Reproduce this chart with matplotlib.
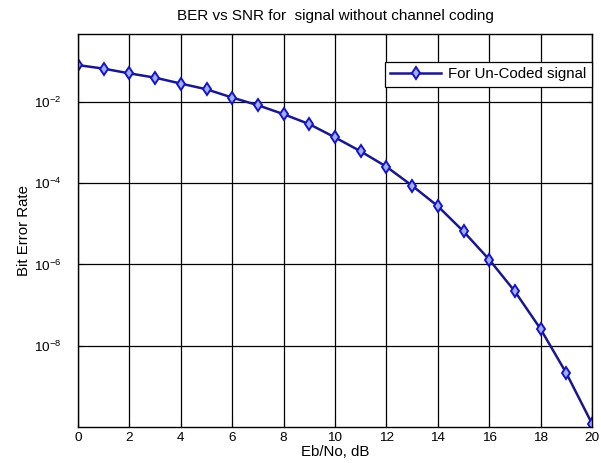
import matplotlib
matplotlib.use("Agg")
import matplotlib.pyplot as plt
from matplotlib.ticker import NullLocator, FixedLocator, LogFormatterMathtext

snr_db = [0, 1, 2, 3, 4, 5, 6, 7, 8, 9, 10, 11, 12, 13, 14, 15, 16, 17, 18, 19, 20]
ber = [0.0807, 0.0659, 0.0505, 0.0396, 0.0283, 0.0205, 0.0128, 0.0083, 0.0050,
       0.00284, 0.00134, 6.08e-4, 2.55e-4, 8.7e-5, 2.73e-5, 6.5e-6, 1.32e-6,
       2.17e-7, 2.58e-8, 2.12e-9, 1.21e-10]
xticks = [0, 2, 4, 6, 8, 10, 12, 14, 16, 18, 20]
yticks = [1e-8, 1e-6, 1e-4, 1e-2]

plt.rcParams['font.family'] = ['Liberation Sans', 'DejaVu Sans']
plt.rcParams['mathtext.fontset'] = 'custom'
plt.rcParams['mathtext.rm'] = 'Liberation Sans'

W, H = 601, 463
fig = plt.figure(figsize=(W / 100, H / 100), dpi=100)
l, r, t, b = 78, 592, 34, 427
ax = fig.add_axes([l / W, 1 - b / H, (r - l) / W, (b - t) / H])

ax.semilogy(snr_db, ber, '-', color='#18188c', lw=1.8, marker='d', ms=6.5,
            mfc='#a4aef2', mec='#1414c8', mew=1.4, label='For Un-Coded signal')

ax.set_xlim(0, 20)
ax.set_ylim(1e-10, 0.47)
ax.xaxis.set_major_locator(FixedLocator(xticks))
ax.yaxis.set_major_locator(FixedLocator(yticks))
ax.yaxis.set_major_formatter(LogFormatterMathtext())
ax.yaxis.set_minor_locator(NullLocator())
ax.grid(True, which='major', color='black', lw=0.9, ls='-')
ax.tick_params(direction='in', top=True, right=True, labelsize=9.7, length=3)
ax.tick_params(axis='y', pad=12)
for s in ax.spines.values():
    s.set_linewidth(1.0)

ax.set_title('BER vs SNR for  signal without channel coding', fontsize=11, pad=10)
ax.set_xlabel('Eb/No, dB', fontsize=10.8, labelpad=1)
ax.set_ylabel('Bit Error Rate', fontsize=10.8, labelpad=2)

leg = ax.legend(loc='upper right', bbox_to_anchor=(1.0, 1 - 28 / (b - t)), borderaxespad=0,
                fontsize=10.8, fancybox=False, framealpha=1, edgecolor='black',
                handlelength=3.4, handletextpad=0.5, borderpad=0.35)
leg.get_frame().set_linewidth(0.9)

fig.savefig('out.png', dpi=100)
